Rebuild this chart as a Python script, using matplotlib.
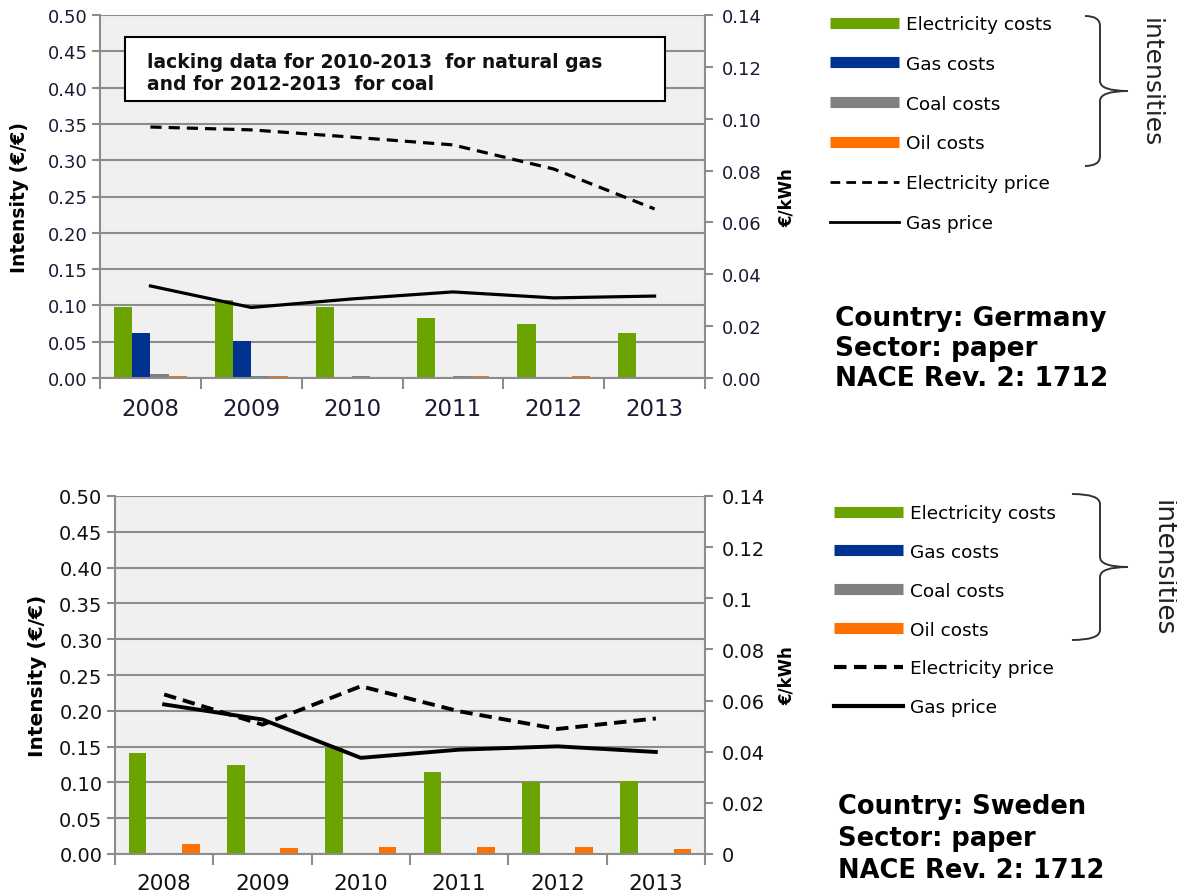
import numpy as np
import matplotlib
matplotlib.use("Agg")
import matplotlib.pyplot as plt
from matplotlib.lines import Line2D
from matplotlib.path import Path
from matplotlib.patches import PathPatch

years = ["2008", "2009", "2010", "2011", "2012", "2013"]
series_names = ["Electricity costs", "Gas costs", "Coal costs", "Oil costs"]
bar_colors = ["#6ba300", "#003291", "#808080", "#ff7000"]

# Germany (top)
de_elec_cost = [0.098, 0.107, 0.098, 0.082, 0.074, 0.062]
de_gas_cost = [0.062, 0.051, 0.0, 0.0, 0.0, 0.0]
de_coal_cost = [0.005, 0.003, 0.003, 0.003, 0.0, 0.0]
de_oil_cost = [0.003, 0.003, 0.0, 0.003, 0.003, 0.0]
de_elec_price = [0.0968, 0.0957, 0.0929, 0.0899, 0.0806, 0.0652]
de_gas_price = [0.0355, 0.0272, 0.0305, 0.0332, 0.0309, 0.0316]

# Sweden (bottom)
se_elec_cost = [0.141, 0.125, 0.150, 0.114, 0.101, 0.102]
se_gas_cost = [0.001, 0.001, 0.0, 0.0, 0.0, 0.0]
se_coal_cost = [0.0, 0.0, 0.0, 0.0, 0.0, 0.0]
se_oil_cost = [0.014, 0.0084, 0.0098, 0.0098, 0.010, 0.0065]
se_elec_price = [0.0624, 0.0506, 0.0656, 0.0558, 0.0489, 0.0530]
se_gas_price = [0.0585, 0.0526, 0.0376, 0.0408, 0.0421, 0.0399]

left_ticks = np.arange(0, 0.501, 0.05)
right_ticks = np.arange(0, 0.141, 0.02)

W, H = 1177, 895
fig = plt.figure(figsize=(W / 100, H / 100), dpi=100)
fig.patch.set_facecolor("white")

GRID = "#8c8c8c"


def fx(px):
    return px / W


def fy(py):
    return 1 - py / H


def make_chart(rect, costs, elec_price, gas_price, txtcol, right_labels,
               lw_line, dash, xfs, yfs, ylab_fs, ylab_x, rlab_x):
    ax = fig.add_axes(rect)
    ax.set_facecolor("#f0f0f0")
    x = np.arange(len(years))
    w = 0.18
    for i, vals in enumerate(costs):
        ax.bar(x + (i - 1.5) * w, vals, w, color=bar_colors[i], zorder=2)
    ax.set_xlim(-0.5, 5.5)
    ax.set_ylim(0, 0.5)
    ax.set_yticks(left_ticks)
    ax.set_yticklabels(["%.2f" % v for v in left_ticks], color=txtcol, fontsize=yfs)
    ax.set_xticks(x)
    ax.set_xticklabels(years, color=txtcol, fontsize=xfs)
    ax.set_xticks(np.arange(-0.5, 6, 1), minor=True)
    ax.tick_params(axis="x", which="major", length=0, pad=14)
    ax.tick_params(axis="x", which="minor", length=8, width=1.5, color=GRID)
    ax.tick_params(axis="y", length=6, width=1.5, color=GRID, pad=3)
    ax.yaxis.grid(True, color=GRID, lw=1.5)
    ax.set_axisbelow(True)
    for s in ["left", "bottom", "right"]:
        ax.spines[s].set_color(GRID)
        ax.spines[s].set_linewidth(1.5)
    ax.spines["top"].set_visible(False)
    ax.set_ylabel("Intensity (€/€)", fontsize=ylab_fs, fontweight="bold")
    ax.yaxis.set_label_coords(ylab_x, 0.5)

    ax2 = ax.twinx()
    ax2.set_ylim(0, 0.14)
    ax2.set_yticks(right_ticks)
    ax2.set_yticklabels(right_labels, color=txtcol, fontsize=yfs)
    ax2.tick_params(axis="y", length=6, width=1.5, color=GRID, pad=6)
    for s in ["left", "bottom", "right", "top"]:
        ax2.spines[s].set_visible(False)
    ax2.plot(x, elec_price, color="black", lw=lw_line, ls=(0, dash))
    ax2.plot(x, gas_price, color="black", lw=lw_line)
    ax2.set_ylabel("€/kWh", fontsize=12, fontweight="bold")
    ax2.yaxis.set_label_coords(rlab_x, 0.5)
    return ax, ax2


# ---- top: Germany
ax_de, ax_de2 = make_chart(
    [fx(100), fy(379), fx(605), (379 - 16) / H],
    [de_elec_cost, de_gas_cost, de_coal_cost, de_oil_cost],
    de_elec_price, de_gas_price, "#1a1a33",
    ["%.2f" % v for v in right_ticks], 2.3, (3.5, 2.2),
    16.5, 13, 13.5, -0.117, 1.12)

box = plt.Rectangle((fx(125), fy(102)), fx(665) - fx(125), fy(38) - fy(102),
                    transform=fig.transFigure, facecolor="white",
                    edgecolor="black", lw=1.5, zorder=3)
fig.add_artist(box)
fig.text(fx(147), fy(73),
         "lacking data for 2010-2013  for natural gas\nand for 2012-2013  for coal",
         fontsize=13.5, fontweight="bold", va="center", ha="left", color="#111111",
         linespacing=1.2, zorder=4)

# ---- bottom: Sweden
se_right = ["0", "0.02", "0.04", "0.06", "0.08", "0.1", "0.12", "0.14"]
ax_se, ax_se2 = make_chart(
    [fx(115), fy(855), fx(590), (855 - 497) / H],
    [se_elec_cost, se_gas_cost, se_coal_cost, se_oil_cost],
    se_elec_price, se_gas_price, "#111111", se_right, 2.8, (3.2, 1.8),
    15.5, 14, 14.5, -0.115, 1.124)


def legend_block(top_py, left_px, fs, lw_line, dash, spacing):
    handles = [Line2D([], [], color=c, lw=8, solid_capstyle="butt")
               for c in bar_colors]
    handles.append(Line2D([], [], color="black", lw=lw_line, ls=(0, dash)))
    handles.append(Line2D([], [], color="black", lw=lw_line))
    labels = series_names + ["Electricity price", "Gas price"]
    fig.legend(handles, labels, loc="upper left",
               bbox_to_anchor=(fx(left_px), fy(top_py)),
               frameon=False, fontsize=fs, handlelength=3.75,
               handletextpad=0.35, labelspacing=spacing, borderpad=0,
               borderaxespad=0)


legend_block(16, 830, 13.3, 2.0, (3.5, 2.2), 1.18)
legend_block(505, 834, 13.3, 3.0, (3.0, 1.8), 1.13)


def brace(x0, xm, xt, ytop, ymid, ybot):
    r = 10
    verts = [(x0, ytop), (xm, ytop), (xm, ytop + r),
             (xm, ymid - r), (xm, ymid), (xt, ymid),
             (xm, ymid), (xm, ymid + r),
             (xm, ybot - r), (xm, ybot), (x0, ybot)]
    codes = [Path.MOVETO, Path.CURVE3, Path.CURVE3,
             Path.LINETO, Path.CURVE3, Path.CURVE3,
             Path.CURVE3, Path.CURVE3,
             Path.LINETO, Path.CURVE3, Path.CURVE3]
    verts = [(fx(a), fy(b)) for a, b in verts]
    fig.add_artist(PathPatch(Path(verts, codes), transform=fig.transFigure,
                             facecolor="none", edgecolor="#333333", lw=1.4))


brace(1085, 1100, 1128, 17, 92, 167)
brace(1072, 1100, 1128, 495, 568, 641)

fig.text(fx(1151), fy(83), "intensities", rotation=-90, fontsize=18,
         ha="center", va="center", color="#222222")
fig.text(fx(1162), fy(568), "intensities", rotation=-90, fontsize=19,
         ha="center", va="center", color="#222222")

fig.text(fx(835), fy(349), "Country: Germany\nSector: paper\nNACE Rev. 2: 1712",
         fontsize=19, fontweight="bold", va="center", ha="left",
         linespacing=1.2)
fig.text(fx(838), fy(839), "Country: Sweden\nSector: paper\nNACE Rev. 2: 1712",
         fontsize=18.5, fontweight="bold", va="center", ha="left",
         linespacing=1.3)

fig.savefig("out.png", dpi=100)
